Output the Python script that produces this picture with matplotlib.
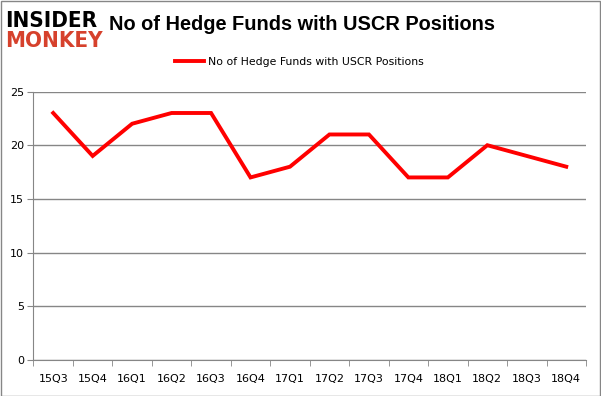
import matplotlib.pyplot as plt
import numpy as np
from matplotlib.patches import Rectangle

quarters = ["15Q3", "15Q4", "16Q1", "16Q2", "16Q3", "16Q4", "17Q1",
            "17Q2", "17Q3", "17Q4", "18Q1", "18Q2", "18Q3", "18Q4"]
funds = [23, 19, 22, 23, 23, 17, 18, 21, 21, 17, 17, 20, 19, 18]
y_ticks = [0, 5, 10, 15, 20, 25]

fig = plt.figure(figsize=(6.01, 3.96), dpi=100)
ax = fig.add_axes([0.0557, 0.0909, 0.9193, 0.678])

x = np.arange(len(quarters))
ax.plot(x, funds, color="#ff0000", lw=2.8, solid_joinstyle="miter",
        label="No of Hedge Funds with USCR Positions")

ax.set_xlim(-0.5, len(quarters) - 0.5)
ax.set_ylim(0, 25)
ax.set_yticks(y_ticks)
ax.set_xticks(x)
ax.set_xticklabels(quarters)
ax.set_xticks(np.arange(-0.5, len(quarters), 1), minor=True)
ax.tick_params(axis="x", which="major", length=0, pad=10, labelsize=8)
ax.tick_params(axis="x", which="minor", length=4, color="#868686")
ax.tick_params(axis="y", length=4, color="#868686", labelsize=8, pad=3)
ax.grid(axis="y", color="#868686", lw=1)
ax.set_axisbelow(True)
for side in ["top", "right"]:
    ax.spines[side].set_visible(False)
for side in ["left", "bottom"]:
    ax.spines[side].set_color("#868686")

ax.legend(loc="center", bbox_to_anchor=(0.481, 1.109), frameon=False,
          fontsize=7.8, handlelength=2.7, handletextpad=0.4)

fig.text(0.502, 0.937, "No of Hedge Funds with USCR Positions", ha="center",
         va="center", fontsize=14.4, fontweight="bold", family="Liberation Sans")

# logo
fig.text(0.008, 0.948, "INSIDER", fontsize=16, fontweight="heavy",
         color="black", va="center", family="DejaVu Sans", fontstretch="condensed")
fig.text(0.008, 0.897, "MONKEY", fontsize=16, fontweight="heavy",
         color="#d6412c", va="center", family="DejaVu Sans", fontstretch="condensed")

fig.patches.append(Rectangle((0.001, 0.001), 0.997, 0.997, transform=fig.transFigure,
                             fill=False, edgecolor="#868686", lw=1))

fig.savefig("out.png", dpi=100)
